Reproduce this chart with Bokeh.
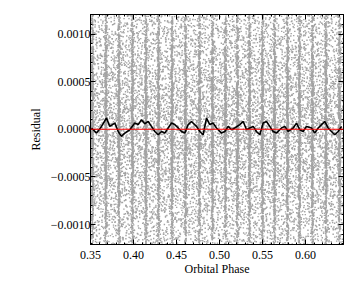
import numpy as np
from bokeh.plotting import figure
from bokeh.models import Range1d, LinearAxis, FixedTicker, CustomJSTickFormatter, Span
from bokeh.embed import file_html
from bokeh.resources import INLINE

# ---- data ----
# phases of the dense vertical bands of residual points
stripe_phase = [0.3523, 0.3680, 0.3831, 0.3988, 0.4145, 0.4291, 0.4448, 0.4605,
                0.4767, 0.4919, 0.5070, 0.5209, 0.5349, 0.5500, 0.5640, 0.5791,
                0.5930, 0.6081, 0.6238, 0.6395]

# binned (running mean) residual curve
binned_phase = [0.3512, 0.3570, 0.3628, 0.3686, 0.3724, 0.3783, 0.3822, 0.3860,
                0.3899, 0.3957, 0.4015, 0.4055, 0.4093, 0.4131, 0.4171, 0.4209,
                0.4248, 0.4287, 0.4326, 0.4364, 0.4403, 0.4442, 0.4480, 0.4520,
                0.4558, 0.4597, 0.4636, 0.4674, 0.4733, 0.4771, 0.4810, 0.4849,
                0.4887, 0.4927, 0.4965, 0.5023, 0.5062, 0.5101, 0.5140, 0.5178,
                0.5236, 0.5276, 0.5314, 0.5352, 0.5392, 0.5430, 0.5469, 0.5508,
                0.5547, 0.5585, 0.5624, 0.5663, 0.5721, 0.5759, 0.5799, 0.5857,
                0.5895, 0.5934, 0.5973, 0.6012, 0.6070, 0.6108, 0.6148, 0.6186,
                0.6224, 0.6264, 0.6302, 0.6341, 0.6380, 0.6419]
binned_resid = [1.3e-5, -4.0e-5, 3.0e-5, 11.8e-5, 3.0e-5, 6.5e-5, -2.3e-5, -7.5e-5,
                -4.0e-5, -0.5e-5, 6.5e-5, 4.9e-5, 10.0e-5, 5.8e-5, 8.2e-5, 3.0e-5,
                -2.3e-5, -5.8e-5, -2.3e-5, -4.0e-5, 1.3e-5, 6.5e-5, 4.9e-5, 1.3e-5,
                -2.3e-5, -4.0e-5, 4.9e-5, 8.2e-5, 3.0e-5, -2.3e-5, -5.8e-5, 11.8e-5,
                4.9e-5, 6.5e-5, 1.3e-5, -4.0e-5, -2.3e-5, 3.0e-5, -0.5e-5, 1.3e-5,
                4.9e-5, 8.2e-5, -0.5e-5, 1.3e-5, 3.0e-5, -2.3e-5, -5.8e-5, 6.5e-5,
                8.2e-5, 3.0e-5, -2.3e-5, -4.0e-5, 1.3e-5, 3.0e-5, -2.3e-5, 1.3e-5,
                6.5e-5, -0.5e-5, -2.3e-5, 3.0e-5, 1.3e-5, -4.0e-5, 1.3e-5, 4.9e-5,
                8.2e-5, 1.3e-5, -2.3e-5, -5.8e-5, -2.3e-5, 3.0e-5]

x_major = [0.35, 0.40, 0.45, 0.50, 0.55, 0.60]
x_minor = [round(0.35 + 0.01 * i, 2) for i in range(30)]
y_major = [-0.0010, -0.0005, 0.0, 0.0005, 0.0010]
y_minor = [round(-0.0012 + 0.0001 * i, 4) for i in range(25)]


# ---- point cloud (deterministic Halton fill of the bands / background) ----
def halton(idx, base):
    i = np.array(idx, dtype=np.int64)
    f = 1.0
    r = np.zeros(len(i))
    while np.any(i > 0):
        f /= base
        r += f * (i % base)
        i //= base
    return r

n_per_stripe = 650
idx = np.arange(1, len(stripe_phase) * n_per_stripe + 1)
sx = np.repeat(stripe_phase, n_per_stripe) + 0.0016 * (halton(idx, 2) + halton(idx, 3) - 1)
sy = 0.0017 * (halton(idx, 5) + halton(idx, 7) - 1)

n_bg = 13000
bidx = np.arange(100001, 100001 + n_bg)
bx = 0.35 + 0.2942 * halton(bidx, 2)
by = 0.0024 * (halton(bidx, 3) + halton(bidx, 5) - 1)

px = np.concatenate([sx, bx])
py = np.concatenate([sy, by])
keep = (np.abs(py) < 0.00122) & (px > 0.3495) & (px < 0.6447)
px, py = px[keep], py[keep]

FONT = "Liberation Serif"

p = figure(x_range=Range1d(0.35, 0.6442), y_range=Range1d(-0.00121, 0.001205),
           frame_width=253, frame_height=230,
           min_border_left=90, min_border_right=8, min_border_top=14, min_border_bottom=34,
           output_backend="svg", toolbar_location=None)
p.grid.visible = False
p.background_fill_color = "white"
p.border_fill_color = "white"
p.outline_line_color = "black"
p.outline_line_width = 1

p.scatter(px, py, marker="square", size=1.4, fill_color="#a3a3a3", line_color=None)
p.line(binned_phase, binned_resid, line_color="black", line_width=1.6)
p.add_layout(Span(location=0, dimension="width", line_color="red", line_width=1))

xt = FixedTicker(ticks=x_major, minor_ticks=x_minor)
yt = FixedTicker(ticks=y_major, minor_ticks=y_minor)

xf = CustomJSTickFormatter(code="return tick.toFixed(2);")
yf = CustomJSTickFormatter(code="return (tick < -1e-12 ? '\\u2212' : '') + Math.abs(tick).toFixed(4);")

def style(ax, show):
    ax.major_tick_in = 5
    ax.major_tick_out = 0
    ax.minor_tick_in = 2
    ax.minor_tick_out = 0
    ax.axis_line_color = "black"
    ax.axis_line_width = 1
    ax.major_tick_line_color = "black"
    ax.minor_tick_line_color = "black"
    ax.major_label_text_font = FONT
    if show:
        ax.major_label_text_font_size = "12px"
        ax.major_label_text_color = "black"
    else:
        ax.major_label_text_font_size = "0px"
        ax.major_label_text_color = None
    ax.axis_label_text_font = FONT
    ax.axis_label_text_font_size = "12px"
    ax.axis_label_text_font_style = "normal"
    ax.axis_label_text_color = "black"

xa = p.xaxis[0]
xa.ticker = xt
xa.formatter = xf
xa.axis_label = "Orbital Phase"
style(xa, True)
xa.major_label_standoff = 6
xa.axis_label_standoff = 0

ya = p.yaxis[0]
ya.ticker = yt
ya.formatter = yf
ya.axis_label = "Residual"
style(ya, True)
ya.major_label_standoff = 0
ya.axis_label_standoff = 5

top = LinearAxis(ticker=FixedTicker(ticks=x_major, minor_ticks=x_minor), formatter=xf)
style(top, False)
top.major_label_standoff = 0
p.add_layout(top, "above")

right = LinearAxis(ticker=FixedTicker(ticks=y_major, minor_ticks=y_minor), formatter=yf)
style(right, False)
right.major_label_standoff = 0
p.add_layout(right, "right")

open("out.html", "w").write(file_html(p, INLINE))
